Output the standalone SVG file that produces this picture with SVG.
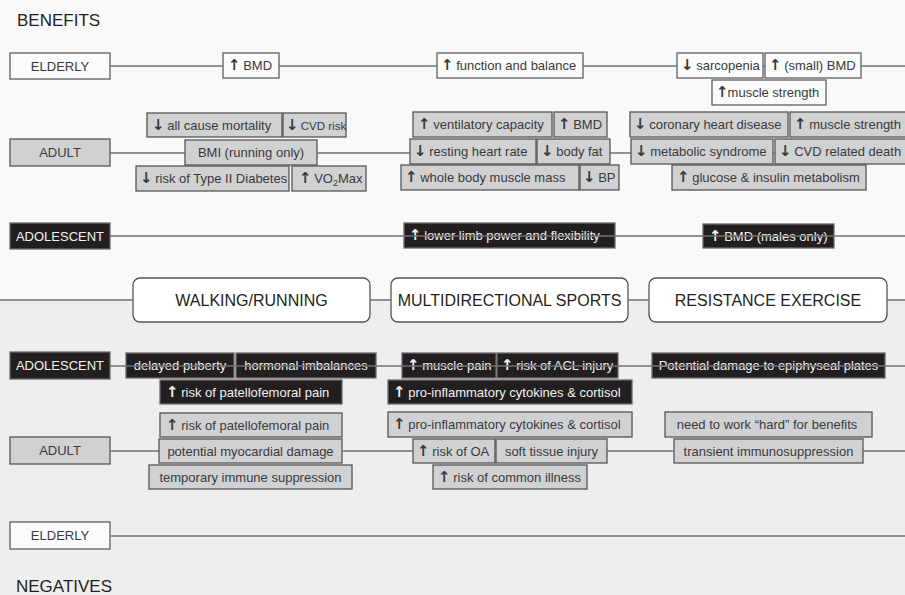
<svg xmlns="http://www.w3.org/2000/svg" width="905" height="595" viewBox="0 0 905 595">
<style>
text{font-family:"Liberation Sans",Arial,sans-serif;font-size:13px;text-anchor:middle}
.s{text-anchor:start}
.hd{font-size:17px;text-anchor:start;fill:#231f20}
.act{font-size:16px;fill:#231f20}
.w{fill:#fbfbfb;stroke:#5f5f5f;stroke-width:1.3}
.g{fill:#d0d1d3;stroke:#555;stroke-width:1.3}
.d{fill:#231f20;stroke:#6a6a6a;stroke-width:1.3}
.a{fill:#fff;stroke:#555;stroke-width:1.3}
.tw{fill:#3a3a3a}
.tg{fill:#3a3a3a}
.td{fill:#f2f2f2}
.ar{font-family:"DejaVu Sans",sans-serif;font-weight:bold;font-size:15px;letter-spacing:-1px}
.ln{stroke:#707070;stroke-width:1.5;fill:none}
</style>
<rect x="0" y="0" width="905" height="300" fill="#f9f9f9"/>
<rect x="0" y="300" width="905" height="295" fill="#eeeeee"/>
<text class="hd" x="17" y="26">BENEFITS</text>
<text class="hd" x="16" y="592">NEGATIVES</text>

<g id="nodes">
<!-- Benefits elderly -->
<g id="b-elderly"><rect class="w" x="10" y="53" width="100" height="26"/><text class="tw" x="60" y="70.5">ELDERLY</text></g>
<g id="b-eld-bmd"><rect class="w" x="223" y="53" width="56" height="25"/><text class="tw s" x="228" y="70"><tspan class="ar">↑</tspan> BMD</text></g>
<g id="b-eld-func"><rect class="w" x="437" y="53" width="146" height="25"/><text class="tw s" x="441" y="70"><tspan class="ar">↑</tspan> function and balance</text></g>
<g id="b-eld-sarc"><rect class="w" x="677" y="53" width="86" height="25"/><text class="tw s" x="681" y="70"><tspan class="ar">↓</tspan> sarcopenia</text></g>
<g id="b-eld-sbmd"><rect class="w" x="765" y="53" width="96" height="25"/><text class="tw s" x="769" y="70"><tspan class="ar">↑</tspan> (small) BMD</text></g>
<g id="b-eld-ms"><rect class="w" x="712" y="80" width="114" height="25"/><text class="tw s" x="716" y="97"><tspan class="ar">↑</tspan>muscle strength</text></g>

<!-- Benefits adult -->
<g id="b-adult"><rect class="g" x="10" y="139" width="100" height="27"/><text class="tg" x="60" y="157">ADULT</text></g>
<g id="b-ad-mort"><rect class="g" x="147" y="113" width="135" height="24"/><text class="tg s" x="152" y="130"><tspan class="ar">↓</tspan> all cause mortality</text></g>
<g id="b-ad-cvd"><rect class="g" x="283" y="113" width="63" height="24"/><text class="tg s" x="286" y="130" style="font-size:11.5px"><tspan class="ar">↓</tspan> CVD risk</text></g>
<g id="b-ad-bmi"><rect class="g" x="185" y="140" width="132" height="25"/><text class="tg" x="251" y="157">BMI (running only)</text></g>
<g id="b-ad-t2d"><rect class="g" x="136" y="166" width="153" height="25"/><text class="tg s" x="140" y="183"><tspan class="ar">↓</tspan> risk of Type II Diabetes</text></g>
<g id="b-ad-vo2"><rect class="g" x="292" y="166" width="74" height="25"/><text class="tg s" x="299" y="183"><tspan class="ar">↑</tspan> VO<tspan font-size="9" dy="3">2</tspan><tspan dy="-3">Max</tspan></text></g>
<g id="b-ad-vent"><rect class="g" x="413" y="112" width="139" height="25"/><text class="tg s" x="418" y="129"><tspan class="ar">↑</tspan> ventilatory capacity</text></g>
<g id="b-ad-bmd"><rect class="g" x="554" y="112" width="53" height="25"/><text class="tg s" x="558" y="129"><tspan class="ar">↑</tspan> BMD</text></g>
<g id="b-ad-rhr"><rect class="g" x="410" y="139" width="126" height="25"/><text class="tg s" x="414" y="156"><tspan class="ar">↓</tspan> resting heart rate</text></g>
<g id="b-ad-fat"><rect class="g" x="537" y="139" width="73" height="25"/><text class="tg s" x="541" y="156"><tspan class="ar">↓</tspan> body fat</text></g>
<g id="b-ad-wbmm"><rect class="g" x="401" y="165" width="178" height="25"/><text class="tg s" x="405" y="182"><tspan class="ar">↑</tspan> whole body muscle mass</text></g>
<g id="b-ad-bp"><rect class="g" x="580" y="165" width="39" height="25"/><text class="tg s" x="583" y="182"><tspan class="ar">↓</tspan> BP</text></g>
<g id="b-ad-chd"><rect class="g" x="630" y="112" width="158" height="25"/><text class="tg s" x="634" y="129"><tspan class="ar">↓</tspan> coronary heart disease</text></g>
<g id="b-ad-ms"><rect class="g" x="790" y="112" width="118" height="25"/><text class="tg s" x="794" y="129"><tspan class="ar">↑</tspan> muscle strength</text></g>
<g id="b-ad-mets"><rect class="g" x="631" y="139" width="142" height="25"/><text class="tg s" x="635" y="156"><tspan class="ar">↓</tspan> metabolic syndrome</text></g>
<g id="b-ad-cvdd"><rect class="g" x="775" y="139" width="133" height="25"/><text class="tg s" x="779" y="156"><tspan class="ar">↓</tspan> CVD related death</text></g>
<g id="b-ad-gluc"><rect class="g" x="672" y="165" width="194" height="25"/><text class="tg s" x="677" y="182"><tspan class="ar">↑</tspan> glucose &amp; insulin metabolism</text></g>

<!-- Benefits adolescent -->
<g id="b-adolescent"><rect class="d" x="10" y="223" width="100" height="26"/><text class="td" x="60" y="241">ADOLESCENT</text></g>
<g id="b-ado-llp"><rect class="d" x="404" y="223" width="211" height="25"/><text class="td s" x="409" y="240"><tspan class="ar">↑</tspan> lower limb power and flexibility</text></g>
<g id="b-ado-bmd"><rect class="d" x="703" y="224" width="131" height="24"/><text class="td s" x="709" y="240.5"><tspan class="ar">↑</tspan> BMD (males only)</text></g>

<!-- Activities -->
<g id="walking"><rect class="a" x="133" y="278" width="237" height="44" rx="7"/><text class="act" x="251.5" y="306">WALKING/RUNNING</text></g>
<g id="multidirectional"><rect class="a" x="391" y="278" width="237" height="44" rx="7"/><text class="act" x="509.5" y="306">MULTIDIRECTIONAL SPORTS</text></g>
<g id="resistance"><rect class="a" x="649" y="278" width="238" height="44" rx="7"/><text class="act" x="768" y="306">RESISTANCE EXERCISE</text></g>

<!-- Negatives adolescent -->
<g id="n-adolescent"><rect class="d" x="10" y="352" width="100" height="27"/><text class="td" x="60" y="370">ADOLESCENT</text></g>
<g id="n-ado-dp"><rect class="d" x="126" y="353" width="108" height="25"/><text class="td" x="180" y="370">delayed puberty</text></g>
<g id="n-ado-hi"><rect class="d" x="236" y="353" width="140" height="25"/><text class="td" x="306" y="370">hormonal imbalances</text></g>
<g id="n-ado-pfp"><rect class="d" x="160" y="380" width="182" height="24"/><text class="td s" x="166" y="397"><tspan class="ar">↑</tspan> risk of patellofemoral pain</text></g>
<g id="n-ado-mp"><rect class="d" x="402" y="353" width="94" height="25"/><text class="td s" x="407" y="370"><tspan class="ar">↑</tspan> muscle pain</text></g>
<g id="n-ado-acl"><rect class="d" x="497" y="353" width="121" height="25"/><text class="td s" x="501" y="370"><tspan class="ar">↑</tspan> risk of ACL injury</text></g>
<g id="n-ado-pic"><rect class="d" x="388" y="380" width="244" height="24"/><text class="td s" x="393" y="397"><tspan class="ar">↑</tspan> pro-inflammatory cytokines &amp; cortisol</text></g>
<g id="n-ado-epi"><rect class="d" x="652" y="353" width="233" height="25"/><text class="td" x="768.5" y="370">Potential damage to epiphyseal plates</text></g>

<!-- Negatives adult -->
<g id="n-adult"><rect class="g" x="10" y="437" width="100" height="27"/><text class="tg" x="60" y="455">ADULT</text></g>
<g id="n-ad-pfp"><rect class="g" x="160" y="413" width="182" height="24"/><text class="tg s" x="166" y="430"><tspan class="ar">↑</tspan> risk of patellofemoral pain</text></g>
<g id="n-ad-myo"><rect class="g" x="159" y="439" width="183" height="24"/><text class="tg" x="250.5" y="456">potential myocardial damage</text></g>
<g id="n-ad-tis"><rect class="g" x="149" y="465" width="203" height="24"/><text class="tg" x="250.5" y="482">temporary immune suppression</text></g>
<g id="n-ad-pic"><rect class="g" x="388" y="412" width="244" height="25"/><text class="tg s" x="393" y="429"><tspan class="ar">↑</tspan> pro-inflammatory cytokines &amp; cortisol</text></g>
<g id="n-ad-oa"><rect class="g" x="413" y="439" width="82" height="24"/><text class="tg s" x="417" y="456"><tspan class="ar">↑</tspan> risk of OA</text></g>
<g id="n-ad-sti"><rect class="g" x="496" y="439" width="111" height="24"/><text class="tg" x="551.5" y="456">soft tissue injury</text></g>
<g id="n-ad-rci"><rect class="g" x="433" y="465" width="154" height="24"/><text class="tg s" x="438" y="482"><tspan class="ar">↑</tspan> risk of common illness</text></g>
<g id="n-ad-hard"><rect class="g" x="665" y="412" width="207" height="25"/><text class="tg" x="767" y="429">need to work “hard” for benefits</text></g>
<g id="n-ad-tim"><rect class="g" x="674" y="439" width="189" height="24"/><text class="tg" x="768.5" y="456">transient immunosuppression</text></g>

<!-- Negatives elderly -->
<g id="n-elderly"><rect class="w" x="10" y="522" width="100" height="27"/><text class="tw" x="60" y="540">ELDERLY</text></g>
</g>

<g id="connectors" class="ln">
<path d="M110 66H223M279 66H437M583 66H677M763 66H765M861 66H905"/>
<path d="M110 153H185M317 153H410M610 153H631M773 153H775"/>
<path d="M110 236H905"/>
<path d="M0 300H133M370 300H391M628 300H649M887 300H905"/>
<path d="M110 366H905"/>
<path d="M110 451H159M342 451H413M495 451H496M607 451H674M863 451H905"/>
<path d="M110 536H905"/>
</g>
</svg>
